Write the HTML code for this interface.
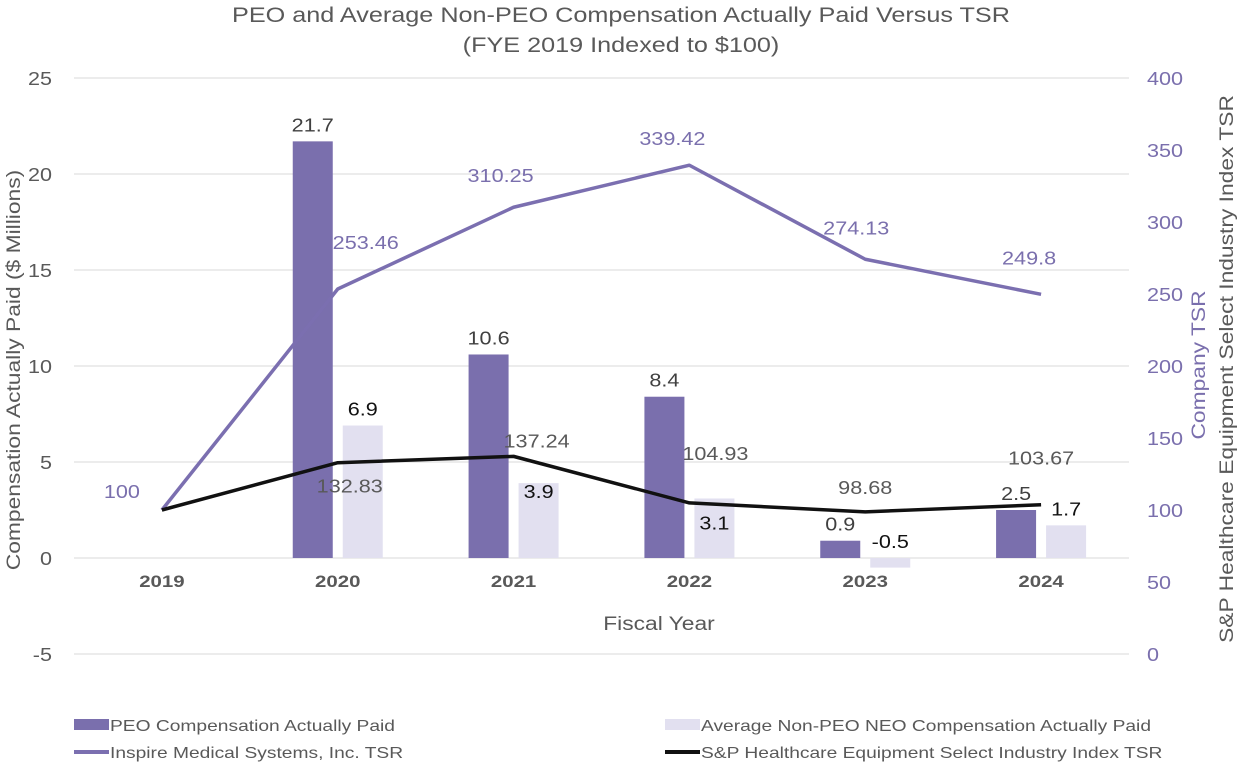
<!DOCTYPE html>
<html><head><meta charset="utf-8"><style>
body{margin:0;background:#fff;}
svg{display:block;font-family:"Liberation Sans",Arial,sans-serif;}
</style></head><body>
<svg id="chart" width="1242" height="766" viewBox="0 0 1242 766">
<text x="621" y="22" text-anchor="middle" font-size="21" fill="#595959">PEO and Average Non-PEO Compensation Actually Paid Versus TSR</text>
<text x="621" y="52" text-anchor="middle" font-size="21" fill="#595959">(FYE 2019 Indexed to $100)</text>
<g id="grid"></g><g id="bars"></g><g id="lines"></g><g id="labels"></g>
<text x="659" y="630" text-anchor="middle" font-size="19" fill="#595959">Fiscal Year</text>
<text transform="translate(20,370) rotate(-90)" text-anchor="middle" font-size="19" fill="#595959">Compensation Actually Paid ($ Millions)</text>
<text transform="translate(1205,365) rotate(-90)" text-anchor="middle" font-size="19" fill="#7a6fad">Company TSR</text>
<text transform="translate(1233,369) rotate(-90)" text-anchor="middle" font-size="19" fill="#595959">S&amp;P Healthcare Equipment Select Industry Index TSR</text>
<g>
<rect x="74" y="719" width="35" height="11" fill="#7a6fad"/>
<text x="110" y="731" font-size="16" fill="#595959">PEO Compensation Actually Paid</text>
<rect x="665" y="719" width="35" height="11" fill="#e2e0f0"/>
<text x="701" y="731" font-size="16" fill="#595959">Average Non-PEO NEO Compensation Actually Paid</text>
<line x1="74" y1="752" x2="109" y2="752" stroke="#7b6fb0" stroke-width="4"/>
<text x="110" y="758" font-size="16" fill="#595959">Inspire Medical Systems, Inc. TSR</text>
<line x1="665" y1="752" x2="700" y2="752" stroke="#111" stroke-width="4"/>
<text x="701" y="758" font-size="16" fill="#595959">S&amp;P Healthcare Equipment Select Industry Index TSR</text>
</g>
</svg>
<script>
const years=["2019","2020","2021","2022","2023","2024"];
const peo=[null,21.7,10.6,8.4,0.9,2.5];
const neo=[null,6.9,3.9,3.1,-0.5,1.7];
const companyTSR=[100,253.46,310.25,339.42,274.13,249.8];
const indexTSR=[100,132.83,137.24,104.93,98.68,103.67];
const leftTicks=[-5,0,5,10,15,20,25];
const rightTicks=[0,50,100,150,200,250,300,350,400];
// label placement offsets (styling)
const compOff=[[-40,-12],[28,-40],[-13,-25],[-17,-20],[-9,-25],[-12,-30]];
const idxOff=[[0,0],[12,30],[23,-9],[26,-43],[0,-18],[0,-40]];
const peoOff=[[0,0],[0,-10],[0,-10],[0,-10],[0,-10],[0,-10]];
const neoOff=[[0,0],[0,-10],[0,15],[0,31],[0,-10],[0,-10]];
const NS="http://www.w3.org/2000/svg";
const X0=74,X1=1129;const band=(X1-X0)/years.length;
const xc=i=>X0+band*(i+0.5);
const yL=v=>558-(v)*19.2;
const yR=v=>654-v*1.44;
function mk(tag,attrs,parent,text){const e=document.createElementNS(NS,tag);for(const k in attrs)e.setAttribute(k,attrs[k]);if(text!=null)e.textContent=text;document.getElementById(parent).appendChild(e);return e;}
leftTicks.forEach(t=>{
 const l=mk('line',{x1:X0,x2:X1,y1:yL(t),y2:yL(t),stroke:'#d9d9d9','stroke-width':1},'grid');
 
 
 const tx=mk('text',{x:52,y:yL(t)+7,'text-anchor':'end','font-size':18,fill:'#595959'},'grid',String(t));
 
 
});
rightTicks.forEach(t=>{
 const tx=mk('text',{x:1147,y:yR(t)+7,'font-size':18,fill:'#7a6fad'},'grid',String(t));
 
 
});
years.forEach((y,i)=>{
 const tx=mk('text',{x:xc(i),y:587,'text-anchor':'middle','font-size':17,'font-weight':'bold',fill:'#595959'},'grid',y);
 
 
});
function bar(v,i,dx,color,name,off,lcolor){
 if(v==null)return;
 const y0=yL(0),y1=yL(v);
 const r=mk('rect',{x:xc(i)+dx,y:Math.min(y0,y1),width:40,height:Math.abs(y0-y1),fill:color},'bars');
 
 
 const ly=v>=0?y1:y0;
 const t=mk('text',{x:xc(i)+dx+20+off[i][0],y:ly+off[i][1],'text-anchor':'middle','font-size':18,fill:lcolor},'labels',String(v));
 
 
}
years.forEach((y,i)=>{bar(peo[i],i,-45,'#7a6fad','bar-peo-'+y,peoOff,'#404040');bar(neo[i],i,5,'#e2e0f0','bar-neo-'+y,neoOff,'#111');});
function line(data,color,name,off,lcolor){
 const p=mk('polyline',{points:data.map((v,i)=>xc(i)+','+yR(v)).join(' '),fill:'none',stroke:color,'stroke-width':3.5,'stroke-linejoin':'round'},'lines');
 
 
 data.forEach((v,i)=>{
  if(name==='line-index-tsr'&&i===0)return;
  const t=mk('text',{x:xc(i)+off[i][0],y:yR(v)+off[i][1],'text-anchor':'middle','font-size':18,fill:lcolor},'labels',String(v));
  
  
 });
}
line(companyTSR,'#7b6fb0','line-company-tsr',compOff,'#7a6fad');
line(indexTSR,'#111','line-index-tsr',idxOff,'#595959');
// horizontal stretch to match reference typeface width
document.querySelectorAll('#chart text').forEach(t=>{
 const w=t.getComputedTextLength();
 t.setAttribute('textLength',(w*1.2).toFixed(1));
 t.setAttribute('lengthAdjust','spacingAndGlyphs');
});
</script>
</body></html>
